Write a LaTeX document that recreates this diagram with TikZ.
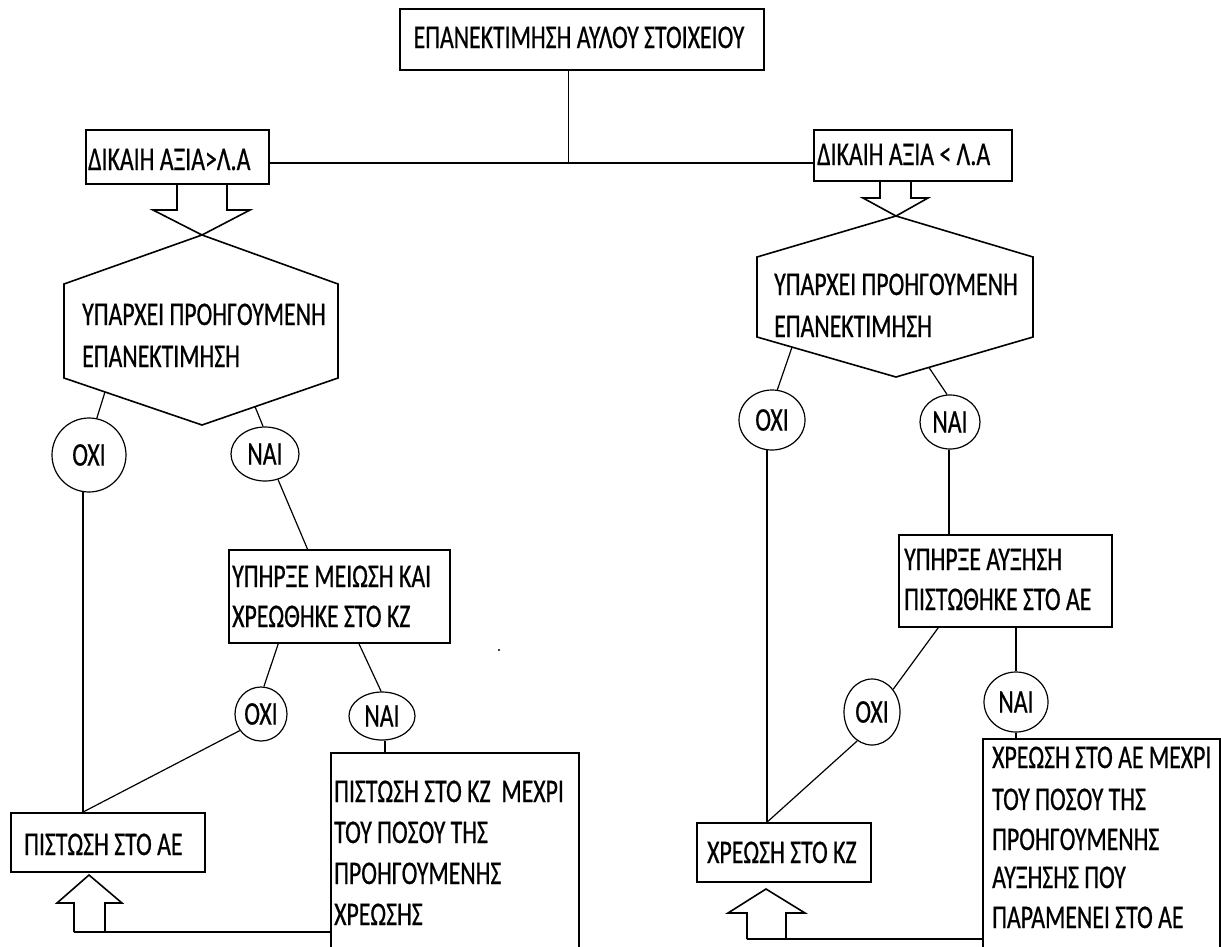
\documentclass[tikz,border=0pt]{standalone}
\usepackage{fontspec}
\setmainfont{Carlito}[FakeStretch=0.72,FakeBold=0.6]
\usetikzlibrary{shapes.geometric,calc}
\begin{document}
\begin{tikzpicture}[x=1pt,y=-1pt,
  box/.style={draw, line width=1.6pt, inner sep=0pt, anchor=north west},
  txt/.style={inner sep=0pt, anchor=base west, font=\fontsize{33}{41}\selectfont},
  oval/.style={draw, ellipse, line width=1.2pt, inner sep=0pt, font=\fontsize{33}{41}\selectfont},
  conn/.style={line width=1.2pt},
  outline/.style={line width=1.6pt, line join=miter}]
\useasboundingbox (0,0) rectangle (1221,946);
\clip (0,0) rectangle (1221,946);

% boxes
\node[box, minimum width=364pt, minimum height=61pt] (top) at (399,8) {};
\node[box, minimum width=183pt, minimum height=54pt] (l1) at (85,129) {};
\node[box, minimum width=198pt, minimum height=51pt] (r1) at (813,129) {};
\node[box, minimum width=221pt, minimum height=93pt] (b1) at (228,549) {};
\node[box, minimum width=213pt, minimum height=92pt] (b2) at (898,534) {};
\node[box, minimum width=194pt, minimum height=59pt] (pae) at (10,812) {};
\node[box, minimum width=174pt, minimum height=59pt] (xkz) at (696,822) {};
\node[box, minimum width=248pt, minimum height=230pt] (br1) at (330,752) {};
\node[box, minimum width=237pt, minimum height=240pt] (br2) at (982,738) {};

% texts
\node[txt, anchor=base] at (579,48) {ΕΠΑΝΕΚΤΙΜΗΣΗ ΑΥΛΟΥ ΣΤΟΙΧΕΙΟΥ};
\node[txt] at (88,170) {ΔΙΚΑΙΗ ΑΞΙΑ>Λ.Α};
\node[txt] at (817,165) {ΔΙΚΑΙΗ ΑΞΙΑ < Λ.Α};
\node[txt] at (82,325) {ΥΠΑΡΧΕΙ ΠΡΟΗΓΟΥΜΕΝΗ};
\node[txt] at (82,367) {ΕΠΑΝΕΚΤΙΜΗΣΗ};
\node[txt] at (774,295) {ΥΠΑΡΧΕΙ ΠΡΟΗΓΟΥΜΕΝΗ};
\node[txt] at (774,337) {ΕΠΑΝΕΚΤΙΜΗΣΗ};
\node[txt] at (232,587) {ΥΠΗΡΞΕ ΜΕΙΩΣΗ ΚΑΙ};
\node[txt] at (232,627) {ΧΡΕΩΘΗΚΕ ΣΤΟ ΚΖ};
\node[txt] at (904,570) {ΥΠΗΡΞΕ ΑΥΞΗΣΗ};
\node[txt] at (904,610) {ΠΙΣΤΩΘΗΚΕ ΣΤΟ ΑΕ};
\node[txt] at (24,855) {ΠΙΣΤΩΣΗ ΣΤΟ ΑΕ};
\node[txt] at (707,863) {ΧΡΕΩΣΗ ΣΤΟ ΚΖ};
\node[txt] at (334,802) {ΠΙΣΤΩΣΗ ΣΤΟ ΚΖ\ \ ΜΕΧΡΙ};
\node[txt] at (334,843) {ΤΟΥ ΠΟΣΟΥ ΤΗΣ};
\node[txt] at (334,884) {ΠΡΟΗΓΟΥΜΕΝΗΣ};
\node[txt] at (334,925) {ΧΡΕΩΣΗΣ};
\node[txt] at (992,768) {ΧΡΕΩΣΗ ΣΤΟ ΑΕ ΜΕΧΡΙ};
\node[txt] at (992,810) {ΤΟΥ ΠΟΣΟΥ ΤΗΣ};
\node[txt] at (992,850) {ΠΡΟΗΓΟΥΜΕΝΗΣ};
\node[txt] at (992,888) {ΑΥΞΗΣΗΣ ΠΟΥ};
\node[txt] at (992,928) {ΠΑΡΑΜΕΝΕΙ ΣΤΟ ΑΕ};

% ovals
\node[oval, minimum width=74pt, minimum height=74pt] (oxi1) at (89,455) {ΟΧΙ};
\node[oval, minimum width=68pt, minimum height=54pt] (nai1) at (265,454) {ΝΑΙ};
\node[oval, minimum width=52pt, minimum height=54pt] (oxi2) at (261,714) {ΟΧΙ};
\node[oval, minimum width=66pt, minimum height=48pt] (nai2) at (382,716) {ΝΑΙ};
\node[oval, minimum width=66pt, minimum height=60pt] (oxi3) at (772,420) {ΟΧΙ};
\node[oval, minimum width=60pt, minimum height=54pt] (nai3) at (950,422) {ΝΑΙ};
\node[oval, minimum width=56pt, minimum height=66pt] (oxi4) at (872,712) {ΟΧΙ};
\node[oval, minimum width=64pt, minimum height=60pt] (nai4) at (1016,702) {ΝΑΙ};

% hexagons
\coordinate (hlt) at (202,235); \coordinate (hlur) at (338,284); \coordinate (hllr) at (338,378);
\coordinate (hlb) at (202,425); \coordinate (hlll) at (64,378); \coordinate (hlul) at (64,284);
\draw[outline] (hlt) -- (hlur) -- (hllr) -- (hlb) -- (hlll) -- (hlul) -- cycle;
\coordinate (hrt) at (896,216); \coordinate (hrur) at (1033,257); \coordinate (hrlr) at (1033,337);
\coordinate (hrb) at (896,377); \coordinate (hrll) at (757,337); \coordinate (hrul) at (757,257);
\draw[outline] (hrt) -- (hrur) -- (hrlr) -- (hrb) -- (hrll) -- (hrul) -- cycle;

% block arrows
\draw[outline] (177,183) -- (177,210) -- (153,210) -- (202,235) -- (250,210) -- (227,210) -- (227,183);
\draw[outline] (880,180) -- (880,198) -- (863,198) -- (896,216) -- (928,198) -- (911,198) -- (911,180);
\coordinate (ual) at (74,932);
\coordinate (uar) at (747,939);
\draw[outline] (ual) -- (74,903) -- (57,903) -- (89,875) -- (122,903) -- (105,903) -- (105,932);
\draw[outline] (ual) -- (ual -| br1.west);
\draw[outline] (uar) -- (747,913) -- (728,913) -- (766,889) -- (805,913) -- (786,913) -- (786,939);
\draw[outline] (uar) -- (uar -| br2.west);

% top connectors
\coordinate (topc) at ($(top.south west)!0.464!(top.south east)$);
\coordinate (l1e) at ($(l1.north east)!0.61!(l1.south east)$);
\draw[outline] (topc) -- (topc |- l1e);
\draw[outline] (l1e) -- (l1e -| r1.west);

% left branch
\coordinate (hla) at ($(hlll)!0.297!(hlb)$);
\coordinate (hlc) at ($(hlb)!0.39!(hllr)$);
\draw[conn] (hla) -- (oxi1.78);
\draw[conn] (hlc) -- (nai1.94);
\coordinate (paet) at (oxi1.-99 |- pae.north);
\draw[outline] (oxi1.-99) -- (paet);
\draw[conn] (nai1.-63) -- ($(b1.north west)!0.357!(b1.north east)$);
\draw[conn] ($(b1.south west)!0.226!(b1.south east)$) -- (oxi2.84);
\draw[conn] ($(b1.south west)!0.588!(b1.south east)$) -- (nai2.92);
\draw[conn] (oxi2.-142) -- (paet);
\draw[conn] (nai2.-83) -- (nai2.-83 |- br1.north);

% right branch
\coordinate (hra) at ($(hrll)!0.252!(hrb)$);
\coordinate (hrc) at ($(hrb)!0.24!(hrlr)$);
\draw[conn] (hra) -- (oxi3.80);
\draw[conn] (hrc) -- (nai3.96);
\coordinate (xkzt) at (oxi3.-99 |- xkz.north);
\draw[outline] (oxi3.-99) -- (xkzt);
\draw[outline] (nai3.-92) -- (nai3.-92 |- b2.north);
\draw[conn] ($(b2.south west)!0.188!(b2.south east)$) -- (oxi4.47);
\draw[outline] (nai4.north |- b2.south) -- (nai4.north);
\draw[conn] (oxi4.-117) -- (xkzt);
\draw[conn] (nai4.south) -- (nai4.south |- br2.north);

% stray dot
\fill (499,650) circle (1.2pt);
\end{tikzpicture}
\end{document}
